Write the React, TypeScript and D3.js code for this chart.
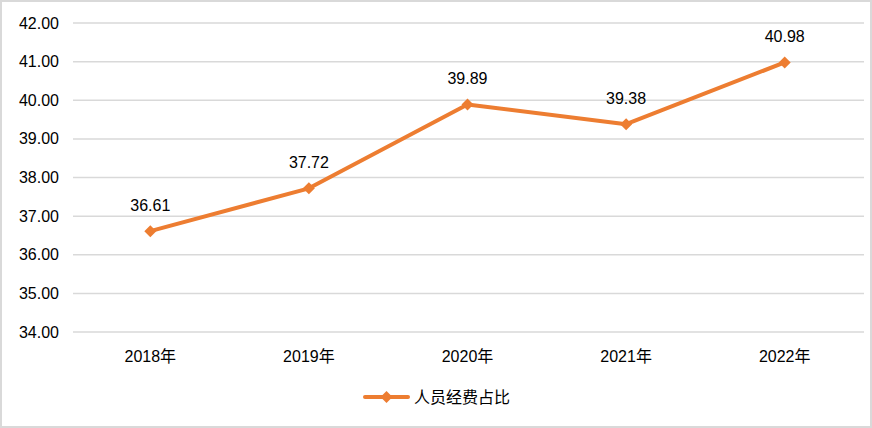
import React from "react";
import * as d3 from "d3";

const categories = ["2018年", "2019年", "2020年", "2021年", "2022年"];
const values = [36.61, 37.72, 39.89, 39.38, 40.98];
const yTicks = [34, 35, 36, 37, 38, 39, 40, 41, 42];
const seriesName = "人员经费占比";

const W = 872;
const H = 428;
const margin = { top: 23, right: 8, bottom: 96, left: 71 };
const font = "Arial, 'Liberation Sans', 'Noto Sans CJK SC', sans-serif";
const orange = "#ED7D31";

// square-ish diamond, like the office chart marker
const diamondPath = "M0,-6L6,0L0,6L-6,0Z";

const App: React.FC = () => {
  const svgRef = React.useRef<SVGSVGElement | null>(null);

  React.useEffect(() => {
    if (!svgRef.current) return;
    const svg = d3.select(svgRef.current);
    svg.selectAll("*").remove();

    const x = d3
      .scaleBand<string>()
      .domain(categories)
      .range([margin.left, W - margin.right]);
    const y = d3
      .scaleLinear()
      .domain([34, 42])
      .range([H - margin.bottom, margin.top]);

    svg
      .append("rect")
      .attr("x", 1)
      .attr("y", 1)
      .attr("width", W - 2)
      .attr("height", H - 2)
      .attr("fill", "#fff")
      .attr("stroke", "#d9d9d9")
      .attr("stroke-width", 2);

    svg
      .append("g")
      .selectAll("line")
      .data(yTicks)
      .join("line")
      .attr("x1", margin.left + 2)
      .attr("x2", W - margin.right)
      .attr("y1", (d) => y(d))
      .attr("y2", (d) => y(d))
      .attr("stroke", "#d9d9d9")
      .attr("stroke-width", 1.5);

    svg
      .append("g")
      .selectAll("text")
      .data(yTicks)
      .join("text")
      .attr("x", 59)
      .attr("y", (d) => y(d))
      .attr("dy", "0.35em")
      .attr("text-anchor", "end")
      .attr("font-family", font)
      .attr("font-size", 16)
      .attr("fill", "#000")
      .text((d) => d.toFixed(2));

    svg
      .append("g")
      .selectAll("text")
      .data(categories)
      .join("text")
      .attr("x", (d) => x(d)! + x.bandwidth() / 2)
      .attr("y", y(34) + 30)
      .attr("text-anchor", "middle")
      .attr("font-family", font)
      .attr("font-size", 16)
      .attr("fill", "#000")
      .text((d) => d);

    const line = d3
      .line<number>()
      .x((d, i) => x(categories[i])! + x.bandwidth() / 2)
      .y((d) => y(d));

    svg
      .append("path")
      .datum(values)
      .attr("d", line)
      .attr("fill", "none")
      .attr("stroke", orange)
      .attr("stroke-width", 4)
      .attr("stroke-linejoin", "round")
      .attr("stroke-linecap", "round");

    svg
      .append("g")
      .selectAll("path")
      .data(values)
      .join("path")
      .attr("d", diamondPath)
      .attr(
        "transform",
        (d, i) => `translate(${x(categories[i])! + x.bandwidth() / 2},${y(d)})`
      )
      .attr("fill", orange);

    svg
      .append("g")
      .selectAll("text")
      .data(values)
      .join("text")
      .attr("x", (d, i) => x(categories[i])! + x.bandwidth() / 2)
      .attr("y", (d) => y(d) - 20)
      .attr("text-anchor", "middle")
      .attr("font-family", font)
      .attr("font-size", 16)
      .attr("fill", "#000")
      .text((d) => d.toFixed(2));

    const legend = svg.append("g").attr("transform", `translate(365,397)`);
    legend
      .append("line")
      .attr("x1", 0)
      .attr("x2", 43)
      .attr("stroke", orange)
      .attr("stroke-width", 4)
      .attr("stroke-linecap", "round");
    legend
      .append("path")
      .attr("d", diamondPath)
      .attr("transform", "translate(21.5,0)")
      .attr("fill", orange);
    legend
      .append("text")
      .attr("x", 49)
      .attr("dy", "0.35em")
      .attr("font-family", font)
      .attr("font-size", 16)
      .attr("fill", "#000")
      .text(seriesName);
  }, []);

  return (
    <svg
      ref={svgRef}
      width={W}
      height={H}
      style={{ position: "absolute", left: 0, top: 0 }}
    ></svg>
  );
};

export default App;
